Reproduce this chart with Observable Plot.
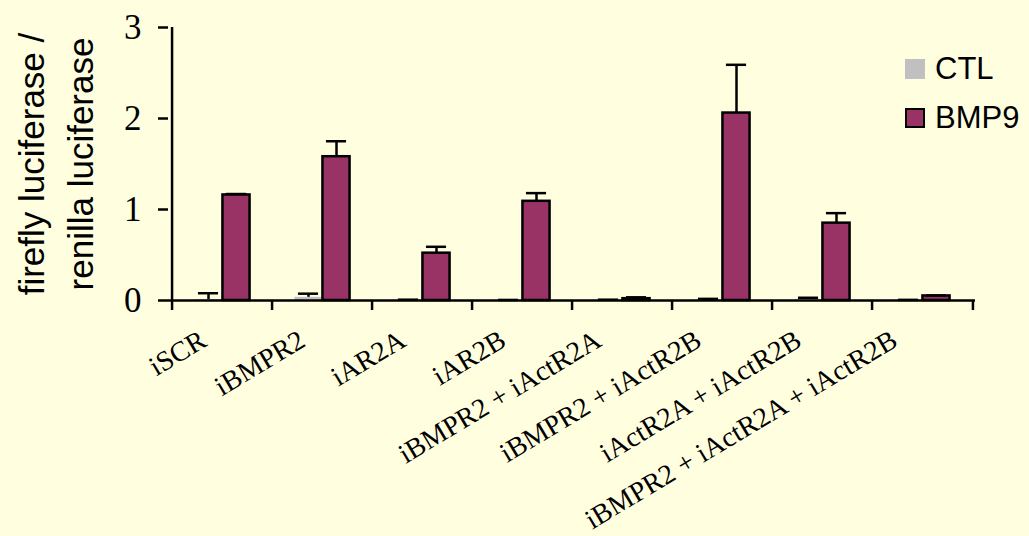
<!DOCTYPE html>
<html>
<head>
<meta charset="utf-8">
<script src="https://cdn.jsdelivr.net/npm/d3@7"></script>
<script src="https://cdn.jsdelivr.net/npm/@observablehq/plot@0.6"></script>
<style>
  html, body { margin: 0; padding: 0; background: #FFFFE0; }
  #wrap { position: relative; width: 1029px; height: 536px; background: #FFFFE0; overflow: hidden; }
  .legend { position: absolute; left: 905px; top: 0; font-family: "Liberation Sans", Arial, sans-serif; font-size: 31px; color: #000; }
  .legend .row { position: absolute; left: 0; white-space: nowrap; display: flex; align-items: center; }
  .legend .sw { width: 20px; height: 20px; box-sizing: border-box; margin-right: 10px; }
</style>
</head>
<body>
<div id="wrap"></div>
<script>
// ---- data ----
const categories = [
  "iSCR",
  "iBMPR2",
  "iAR2A",
  "iAR2B",
  "iBMPR2 + iActR2A",
  "iBMPR2 + iActR2B",
  "iActR2A + iActR2B",
  "iBMPR2 + iActR2A + iActR2B"
];
const seriesNames = ["CTL", "BMP9"];
const ctlValues = [0.01, 0.035, 0.005, 0.003, 0.005, 0.006, 0.01, 0.004];
const ctlErrors = [0.07, 0.04, 0.004, 0.003, 0.004, 0.012, 0.02, 0.003];
const bmp9Values = [1.16, 1.58, 0.52, 1.09, 0.02, 2.06, 0.85, 0.05];
const bmp9Errors = [0.01, 0.17, 0.07, 0.09, 0.015, 0.53, 0.11, 0.005];
const yTicks = [0, 1, 2, 3];
const yTitle = "firefly luciferase /\nrenilla luciferase";

const colors = { CTL: "#C0C0C0", BMP9: "#993366" };

const rows = [];
categories.forEach((c, i) => {
  rows.push({ cat: c, series: "CTL", v: ctlValues[i], top: ctlValues[i] + ctlErrors[i] });
  rows.push({ cat: c, series: "BMP9", v: bmp9Values[i], top: bmp9Values[i] + bmp9Errors[i] });
});
const ctlRows = rows.filter(d => d.series === "CTL");
const bmpRows = rows.filter(d => d.series === "BMP9");

const W = 1029, H = 536;
const mL = 168, mR = 54, mT = 27, mB = 236;
const band = (W - mL - mR) / categories.length; // ~100.9
const barW = 28;
const half = band / 2;
const capW = 21;

// measure label widths so rotated labels are offset like the original
const xFontSize = 28;
const ctx = document.createElement("canvas").getContext("2d");
ctx.font = `${xFontSize}px "Liberation Serif"`;
const labelMarks = categories.map(c => {
  const L = ctx.measureText(c).width;
  return Plot.text([c], {
    x: d => d, frameAnchor: "bottom", text: d => d,
    rotate: -31, textAnchor: "end", lineAnchor: "middle",
    dx: -17 - 0.03 * L, dy: 37, fontSize: xFontSize, fontFamily: "Liberation Serif", fill: "#000"
  });
});

const chart = Plot.plot({
  width: W,
  height: H,
  marginLeft: mL,
  marginRight: mR,
  marginTop: mT,
  marginBottom: mB,
  style: { background: "#FFFFE0", color: "#000", overflow: "visible" },
  x: { domain: categories, padding: 0, axis: null },
  y: { domain: [0, 3], axis: null },
  marks: [
    Plot.barY(ctlRows, {
      x: "cat", y: "v", fill: colors.CTL,
      insetLeft: half - barW, insetRight: half
    }),
    Plot.barY(bmpRows, {
      x: "cat", y: "v", fill: colors.BMP9, stroke: "#000", strokeWidth: 2.5,
      insetLeft: half, insetRight: half - barW
    }),
    Plot.ruleX(ctlRows, { x: "cat", y1: "v", y2: "top", dx: -barW / 2, stroke: "#000", strokeWidth: 2.5 }),
    Plot.ruleX(bmpRows, { x: "cat", y1: "v", y2: "top", dx: barW / 2, stroke: "#000", strokeWidth: 2.5 }),
    Plot.tickY(ctlRows, {
      x: "cat", y: "top", stroke: "#000", strokeWidth: 2.5,
      insetLeft: half - barW / 2 - capW / 2, insetRight: band - (half - barW / 2 + capW / 2)
    }),
    Plot.tickY(bmpRows, {
      x: "cat", y: "top", stroke: "#000", strokeWidth: 2.5,
      insetLeft: half + barW / 2 - capW / 2, insetRight: band - (half + barW / 2 + capW / 2)
    }),
    Plot.ruleY([0], { stroke: "#000", strokeWidth: 2.5 }),
    Plot.ruleX([categories[0]], { x: d => d, y1: 0, y2: 3, dx: -half, stroke: "#000", strokeWidth: 2.5 }),
    Plot.ruleX(categories, { x: d => d, y1: 0, y2: 0, dx: -half, insetBottom: -10, stroke: "#000", strokeWidth: 2.5 }),
    Plot.ruleX([categories[categories.length - 1]], { x: d => d, y1: 0, y2: 0, dx: half, insetBottom: -10, stroke: "#000", strokeWidth: 2.5 }),
    Plot.axisY(yTicks, {
      ticks: yTicks, tickSize: 10, tickPadding: 17, label: null,
      fontSize: 35, fontFamily: "Liberation Serif", stroke: "#000", strokeWidth: 2.5,
      tickFormat: d => String(d)
    }),
    ...labelMarks,
    Plot.text([yTitle], {
      frameAnchor: "left", text: d => d, rotate: -90,
      textAnchor: "middle", lineAnchor: "middle", lineHeight: 1.4,
      dx: -116, fontSize: 35, fontFamily: "Liberation Sans", fill: "#000"
    })
  ]
});

const wrap = document.getElementById("wrap");
wrap.appendChild(chart);

const legend = document.createElement("div");
legend.className = "legend";
const items = [
  { name: seriesNames[0], fill: colors.CTL, border: "none", top: 51 },
  { name: seriesNames[1], fill: colors.BMP9, border: "2.5px solid #000", top: 100 }
];
items.forEach(it => {
  const row = document.createElement("div");
  row.className = "row";
  row.style.top = it.top + "px";
  const sw = document.createElement("div");
  sw.className = "sw";
  sw.style.background = it.fill;
  sw.style.border = it.border;
  const tx = document.createElement("span");
  tx.textContent = it.name;
  row.appendChild(sw);
  row.appendChild(tx);
  legend.appendChild(row);
});
wrap.appendChild(legend);
</script>
</body>
</html>
